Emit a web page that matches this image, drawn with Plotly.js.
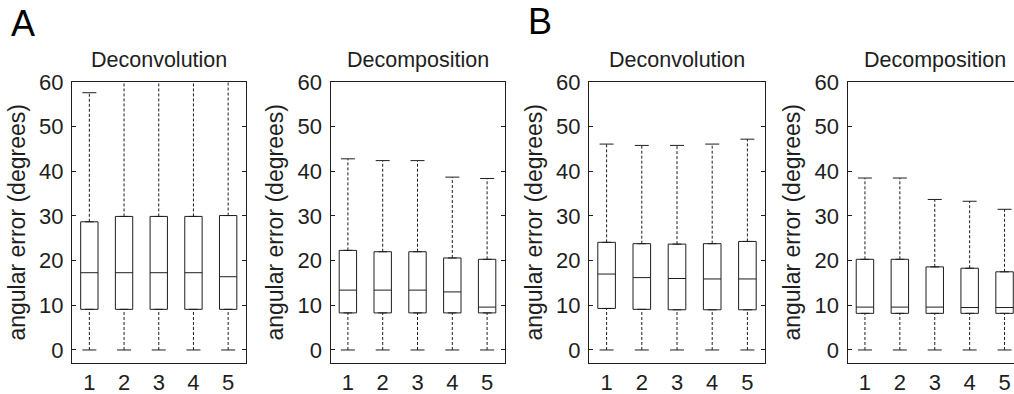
<!DOCTYPE html>
<html>
<head>
<meta charset="utf-8">
<script src="https://cdn.plot.ly/plotly-3.0.1.min.js"></script>
<style>
html, body { margin: 0; padding: 0; background: #fff; overflow: hidden; }
#chart { width: 1024px; height: 394px; }
</style>
</head>
<body>
<div id="chart"></div>
<script>
// ---- data ----
const categories = [1, 2, 3, 4, 5];
const tickLabelsX = ['1', '2', '3', '4', '5'];
const tickValsY = [0, 10, 20, 30, 40, 50, 60];

const panelTitles = ['Deconvolution', 'Decomposition', 'Deconvolution', 'Decomposition'];
const panelLetters = ['A', 'B'];
const yAxisTitle = 'angular error (degrees)';

// Panel A – Deconvolution
const aDeconLo  = [0, 0, 0, 0, 0];
const aDeconQ1  = [9.1, 9.1, 9.1, 9.1, 9.1];
const aDeconMed = [17.3, 17.3, 17.3, 17.3, 16.4];
const aDeconQ3  = [28.7, 29.9, 29.9, 29.9, 30.1];
const aDeconHi  = [57.6, 63, 63, 63, 63];

// Panel A – Decomposition
const aDecompLo  = [0, 0, 0, 0, 0];
const aDecompQ1  = [8.3, 8.3, 8.3, 8.3, 8.3];
const aDecompMed = [13.4, 13.4, 13.4, 13.0, 9.6];
const aDecompQ3  = [22.3, 22.0, 22.0, 20.6, 20.3];
const aDecompHi  = [42.8, 42.4, 42.4, 38.7, 38.4];

// Panel B – Deconvolution
const bDeconLo  = [0, 0, 0, 0, 0];
const bDeconQ1  = [9.3, 9.1, 9.0, 9.0, 9.0];
const bDeconMed = [17.0, 16.2, 16.0, 15.9, 15.9];
const bDeconQ3  = [24.1, 23.8, 23.7, 23.8, 24.3];
const bDeconHi  = [46.1, 45.8, 45.8, 46.1, 47.2];

// Panel B – Decomposition
const bDecompLo  = [0, 0, 0, 0, 0];
const bDecompQ1  = [8.2, 8.2, 8.2, 8.2, 8.2];
const bDecompMed = [9.6, 9.6, 9.6, 9.5, 9.5];
const bDecompQ3  = [20.3, 20.3, 18.6, 18.3, 17.5];
const bDecompHi  = [38.5, 38.5, 33.7, 33.3, 31.5];

// ---- styling ----
const INK = '#1e1e1e';
const FONT = 'Liberation Sans, Arial, Helvetica, sans-serif';

const panels = [
  {lo: aDeconLo,  q1: aDeconQ1,  med: aDeconMed,  q3: aDeconQ3,  hi: aDeconHi},
  {lo: aDecompLo, q1: aDecompQ1, med: aDecompMed, q3: aDecompQ3, hi: aDecompHi},
  {lo: bDeconLo,  q1: bDeconQ1,  med: bDeconMed,  q3: bDeconQ3,  hi: bDeconHi},
  {lo: bDecompLo, q1: bDecompQ1, med: bDecompMed, q3: bDecompQ3, hi: bDecompHi}
];

const W = 1024, H = 394;
const xPix = [[72, 245.5], [330.5, 504.5], [589, 765], [847.5, 1022]];
const yTop = 82, yBot = 362.7;

const traces = [];
const layout = {
  width: W, height: H,
  margin: {l: 0, r: 0, t: 0, b: 0},
  paper_bgcolor: '#ffffff',
  plot_bgcolor: '#ffffff',
  showlegend: false,
  font: {family: FONT, size: 22, color: INK},
  annotations: []
};

panels.forEach((p, k) => {
  const n = k + 1;
  const xa = n === 1 ? 'x' : 'x' + n;
  const ya = n === 1 ? 'y' : 'y' + n;

  // dashed whiskers
  const wx = [], wy = [];
  categories.forEach((c, i) => {
    wx.push(c, c, null, c, c, null);
    wy.push(p.lo[i], p.q1[i], null, p.q3[i], p.hi[i], null);
  });
  traces.push({
    type: 'scatter', mode: 'lines', x: wx, y: wy, xaxis: xa, yaxis: ya,
    line: {color: INK, width: 1, dash: '3px,2px'}, hoverinfo: 'skip'
  });
  // whisker caps
  traces.push({
    type: 'scatter', mode: 'markers',
    x: categories.concat(categories), y: p.lo.concat(p.hi),
    xaxis: xa, yaxis: ya,
    marker: {symbol: 'line-ew', size: 10, line: {color: INK, width: 1}},
    hoverinfo: 'skip'
  });
  // boxes with medians
  traces.push({
    type: 'box', x: categories, q1: p.q1, median: p.med, q3: p.q3,
    lowerfence: p.q1, upperfence: p.q3,
    xaxis: xa, yaxis: ya, width: 0.5,
    boxpoints: false,
    fillcolor: 'rgba(255,255,255,0)',
    line: {color: INK, width: 1}
  });

  const xKey = n === 1 ? 'xaxis' : 'xaxis' + n;
  const yKey = n === 1 ? 'yaxis' : 'yaxis' + n;
  layout[xKey] = {
    domain: [xPix[k][0] / W, xPix[k][1] / W],
    anchor: ya,
    range: [0.5, 5.5],
    tickvals: categories, ticktext: tickLabelsX,
    ticks: '', showgrid: false, zeroline: false,
    showline: true, mirror: true, linecolor: INK, linewidth: 1,
    tickfont: {family: FONT, size: 22, color: INK},
    fixedrange: true
  };
  layout[yKey] = {
    domain: [(H - yBot) / H, (H - yTop) / H],
    anchor: xa,
    range: [-2.85, 60],
    tickvals: tickValsY,
    ticks: 'inside', ticklen: 4, tickcolor: INK, tickwidth: 1,
    showgrid: false, zeroline: false,
    showline: true, mirror: 'ticks', linecolor: INK, linewidth: 1,
    tickfont: {family: FONT, size: 22, color: INK},
    ticklabelstandoff: 3,
    title: {text: yAxisTitle, font: {family: FONT, size: 23, color: INK}, standoff: 7},
    fixedrange: true
  };
  layout.annotations.push({
    text: panelTitles[k], xref: xa + ' domain', yref: 'paper',
    x: 0.5, y: (H - 60) / H, xanchor: 'center', yanchor: 'middle',
    showarrow: false, font: {family: FONT, size: 21.5, color: INK}
  });
});

layout.annotations.push({
  text: panelLetters[0], xref: 'paper', yref: 'paper',
  x: 23 / W, y: (H - 23) / H, xanchor: 'center', yanchor: 'middle',
  showarrow: false, font: {family: FONT, size: 36, color: '#000'}
});
layout.annotations.push({
  text: panelLetters[1], xref: 'paper', yref: 'paper',
  x: 540 / W, y: (H - 22) / H, xanchor: 'center', yanchor: 'middle',
  showarrow: false, font: {family: FONT, size: 36, color: '#000'}
});

Plotly.newPlot('chart', traces, layout, {displayModeBar: false, staticPlot: true});
</script>
</body>
</html>
